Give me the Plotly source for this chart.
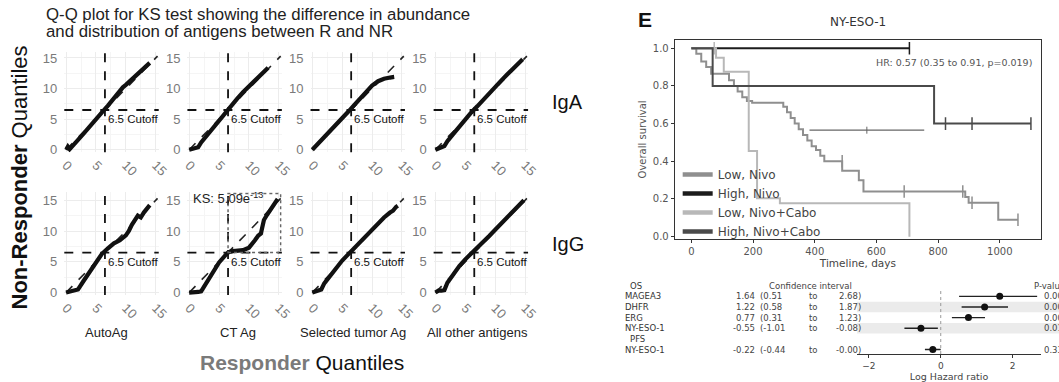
import plotly.graph_objects as go

W, H = 1059, 382

# ---------------- Q-Q panels (left figure) ----------------
qq_columns = ["AutoAg", "CT Ag", "Selected tumor Ag", "All other antigens"]
qq_col_label_x = [6.8, 8.2, 6.8, 7.1]
qq_rows = ["IgA", "IgG"]
qq_ticks = [0, 5, 10, 15]
cutoff = 6.5
ref_line = [0, 15.3]

iga_auto_x = [0, 0.3, 0.6, 1, 2, 3, 4, 5, 6, 7, 8, 9, 9.5, 10, 11, 12, 13, 14]
iga_auto_y = [0, 0.5, 0.1, 0.6, 1.6, 2.7, 3.9, 5.0, 6.1, 7.2, 8.4, 9.7, 10.2, 10.6, 11.5, 12.4, 13.3, 14.2]
iga_ct_x = [0, 0.5, 1, 1.5, 2, 3, 4, 5, 6, 7, 8, 9, 10, 11, 12, 13.2]
iga_ct_y = [0, 0.1, 0.2, 0.4, 1.2, 2.4, 3.6, 4.9, 6.1, 7.3, 8.3, 9.4, 10.4, 11.3, 12.3, 13.4]
iga_sel_x = [0, 1, 2, 3, 4, 5, 6, 7, 8, 9, 10, 11, 12, 13, 13.7]
iga_sel_y = [0, 1.0, 2.0, 3.1, 4.1, 5.1, 6.2, 7.3, 8.3, 9.3, 10.5, 11.2, 11.6, 11.8, 11.9]
iga_oth_x = [0, 0.5, 1, 1.5, 2, 3, 4, 5, 6, 7, 8, 9, 10, 11, 12, 13, 14, 14.6]
iga_oth_y = [0, 0.3, 0.4, 0.6, 1.4, 2.6, 3.8, 5.0, 6.1, 7.1, 8.2, 9.2, 10.3, 11.3, 12.3, 13.3, 14.2, 14.8]

igg_auto_x = [0, 1, 2, 3, 4, 5, 6, 7, 8, 9, 10, 10.5, 11, 12, 12.5, 13, 14]
igg_auto_y = [0, 0.3, 0.5, 2.0, 3.5, 5.0, 6.3, 7.2, 8.0, 8.5, 9.3, 10.0, 11.0, 12.5, 12.2, 13.0, 14.2]
igg_ct_x = [0, 0.5, 1, 1.5, 2, 2.5, 3, 4, 5, 6, 6.5, 7, 8, 9, 10, 10.5, 11, 11.5, 12, 12.2, 12.3, 12.5, 13, 13.5, 14, 14.8]
igg_ct_y = [0, 0, 0.1, 0.1, 0.2, 1.0, 2.0, 3.6, 4.9, 6.0, 6.5, 6.7, 6.8, 6.9, 7.3, 7.8, 8.5, 9.2, 9.6, 10.5, 11.3, 11.8, 12.6, 13.4, 14.2, 15.2]
igg_sel_x = [0, 0.5, 1, 1.5, 2, 3, 4, 5, 6, 7, 8, 9, 10, 11, 12, 13, 13.5, 14, 14.3]
igg_sel_y = [0, 0.2, 0.3, 0.5, 1.5, 2.8, 4.0, 5.2, 6.2, 7.2, 8.3, 9.3, 10.3, 11.3, 12.2, 13.0, 13.3, 13.9, 14.1]
igg_oth_x = [0, 0.5, 1, 1.5, 2, 3, 4, 5, 6, 7, 8, 9, 10, 11, 12, 13, 14, 14.8]
igg_oth_y = [0, 0.3, 0.3, 0.4, 1.6, 3.0, 4.3, 5.4, 6.3, 7.2, 8.2, 9.2, 10.2, 11.2, 12.3, 13.3, 14.2, 15.0]

qq_series = [
    [(iga_auto_x, iga_auto_y), (iga_ct_x, iga_ct_y), (iga_sel_x, iga_sel_y), (iga_oth_x, iga_oth_y)],
    [(igg_auto_x, igg_auto_y), (igg_ct_x, igg_ct_y), (igg_sel_x, igg_sel_y), (igg_oth_x, igg_oth_y)],
]
ks_label = "KS: 5.09e<sup>-13</sup>"
ks_label_y = 15.4
ks_box_x = [6.5, 15.3]
ks_box_y = [6.5, 16.1]

# ---------------- Kaplan-Meier data ----------------
km_names = ["Low, Nivo", "High, Nivo", "Low, Nivo+Cabo", "High, Nivo+Cabo"]
km_colors = ["#8f8f8f", "#1c1c1c", "#b8b8b8", "#4a4a4a"]

low_nivo_t = [0, 16, 32, 48, 64, 122, 138, 150, 165, 180, 197, 298, 310, 322, 335, 348, 362, 376, 390, 404, 418, 431, 489, 543, 558, 888, 899, 905, 995, 1059]
low_nivo_s = [1.0, 0.97, 0.93, 0.90, 0.865, 0.83, 0.80, 0.77, 0.74, 0.72, 0.71, 0.69, 0.66, 0.63, 0.60, 0.57, 0.54, 0.51, 0.48, 0.46, 0.43, 0.40, 0.35, 0.30, 0.24, 0.21, 0.18, 0.18, 0.09, 0.09]
low_nivo_ct = [489, 690, 880, 910, 1059]
low_nivo_cs = [0.40, 0.24, 0.24, 0.18, 0.09]

high_nivo_t = [0, 707]
high_nivo_s = [1.0, 1.0]
high_nivo_ct = [707]
high_nivo_cs = [1.0]

low_cabo_t = [0, 80, 105, 186, 213, 287, 707]
low_cabo_s = [1.0, 0.95, 0.875, 0.455, 0.204, 0.178, 0.0]
low_cabo_ct = [74]
low_cabo_cs = [1.0]

high_cabo_t = [0, 69, 787, 1101]
high_cabo_s = [1.0, 0.8, 0.6, 0.6]
high_cabo_ct = [824, 910, 1101]
high_cabo_cs = [0.6, 0.6, 0.6]

km_curves = [
    (low_nivo_t, low_nivo_s, low_nivo_ct, low_nivo_cs),
    (high_nivo_t, high_nivo_s, high_nivo_ct, high_nivo_cs),
    (low_cabo_t, low_cabo_s, low_cabo_ct, low_cabo_cs),
    (high_cabo_t, high_cabo_s, high_cabo_ct, high_cabo_cs),
]
median_t = [383, 755]
median_s = [0.565, 0.565]
median_mark_t = [569]
km_xticks = [0, 200, 400, 600, 800, 1000]
km_yticks = [0.0, 0.2, 0.4, 0.6, 0.8, 1.0]
hr_text = "HR: 0.57 (0.35 to 0.91, p=0.019)"
hr_y = 0.923

# ---------------- Forest plot data ----------------
forest_rows = ["OS", "MAGEA3", "DHFR", "ERG", "NY-ESO-1", "PFS", "NY-ESO-1"]
forest_is_header = [True, False, False, False, False, True, False]
forest_est = [None, 1.64, 1.22, 0.77, -0.55, None, -0.22]
forest_lo = [None, 0.51, 0.58, 0.31, -1.01, None, -0.44]
forest_hi = [None, 2.68, 1.87, 1.23, -0.08, None, -0.00]
forest_est_txt = ["", "1.64", "1.22", "0.77", "-0.55", "", "-0.22"]
forest_lo_txt = ["", "(0.51", "(0.58", "(0.31", "(-1.01", "", "(-0.44"]
forest_hi_txt = ["", "2.68)", "1.87)", "1.23)", "-0.08)", "", "-0.00)"]
forest_p_txt = ["P-value", "0.002", "0.000", "0.001", "0.019", "", "0.33"]
forest_shaded_rows = [2, 4]
forest_xticks = [-2, 0, 2]
forest_yrange = [6.46, -0.5]

# ---------------- layout helpers ----------------
def fx(p):
    return p / W

def fy(p):
    return 1 - p / H

def ax_suffix(n):
    return "" if n == 1 else str(n)

SANS = "Liberation Sans, Arial, sans-serif"
DJV = "DejaVu Sans, sans-serif"

fig = go.Figure()
layout = dict(
    width=W, height=H, margin=dict(l=0, r=0, t=0, b=0),
    paper_bgcolor="white", plot_bgcolor="white",
    showlegend=True,
    legend=dict(x=fx(683), y=fy(161), xanchor="left", yanchor="top",
                bgcolor="rgba(0,0,0,0)", font=dict(family=DJV, size=12, color="#444"),
                itemwidth=30, tracegroupgap=0),
)
shapes = []
annotations = []

# Q-Q panel geometry (pixels)
col_left0, col_step, col_w = 60.2, 125, 95.9
row_tb = [(51.4, 153.0), (193.8, 298.5)]
row_range = [[-0.4, 15.9], [-0.4, 16.3]]
x_range = [-0.3, 15.5]

for r in range(2):
    for c in range(4):
        n = r * 4 + c + 1
        sfx = ax_suffix(n)
        xa, ya = f"xaxis{sfx}", f"yaxis{sfx}"
        xr, yr = f"x{sfx}", f"y{sfx}"
        left = col_left0 + c * col_step
        top, bot = row_tb[r]
        grid = dict(showgrid=True, gridcolor="#ececec", gridwidth=1, zeroline=False,
                    showline=False, ticks="", tickvals=qq_ticks,
                    minor=dict(dtick=2.5, showgrid=True, gridcolor="#f5f5f5", gridwidth=1),
                    tickfont=dict(family=SANS, size=13, color="#7a7a7a"))
        layout[xa] = dict(grid, domain=[fx(left), fx(left + col_w)], range=x_range,
                          anchor=yr, tickangle=45, ticklabelstandoff=2)
        layout[ya] = dict(grid, domain=[fy(bot), fy(top)], range=row_range[r], anchor=xr,
                          ticklabelstandoff=6)
        sx, sy = qq_series[r][c]
        fig.add_trace(go.Scatter(x=ref_line, y=ref_line, mode="lines", xaxis=xr, yaxis=yr,
                                 line=dict(color="#222", width=1.6, dash="dash"),
                                 showlegend=False, hoverinfo="skip"))
        fig.add_trace(go.Scatter(x=sx, y=sy, mode="lines", xaxis=xr, yaxis=yr,
                                 line=dict(color="#111", width=4.2),
                                 showlegend=False))
        shapes.append(dict(type="line", xref=f"{xr} domain", yref=yr, x0=0, x1=1,
                           y0=cutoff, y1=cutoff, line=dict(color="#111", width=1.8, dash="dash")))
        shapes.append(dict(type="line", xref=xr, yref=f"{yr} domain", x0=cutoff, x1=cutoff,
                           y0=0, y1=1, line=dict(color="#111", width=1.8, dash="dash")))
        annotations.append(dict(x=cutoff, y=cutoff, xref=xr, yref=yr, text="6.5 Cutoff",
                                showarrow=False, xanchor="left", yanchor="top", xshift=1, yshift=-1,
                                font=dict(family=SANS, size=11.5, color="#111")))
        if r == 1 and c == 1:
            shapes.append(dict(type="rect", xref=xr, yref=yr, x0=ks_box_x[0], x1=ks_box_x[1],
                               y0=ks_box_y[0], y1=ks_box_y[1],
                               line=dict(color="#666", width=1.5, dash="dot")))
            annotations.append(dict(x=cutoff, y=ks_label_y, xref=xr, yref=yr, text=ks_label,
                                    showarrow=False, xanchor="center", yanchor="middle",
                                    font=dict(family=SANS, size=13, color="#222")))
        if r == 1:
            annotations.append(dict(x=qq_col_label_x[c], y=fy(337), xref=xr, yref="paper",
                                    xanchor="center", yanchor="middle",
                                    text=qq_columns[c], showarrow=False,
                                    font=dict(family=SANS, size=13, color="#222")))

for r, lab in enumerate(qq_rows):
    annotations.append(dict(x=fx(553), y=fy((row_tb[r][0] + row_tb[r][1]) / 2), xref="paper", yref="paper",
                            text=lab, showarrow=False, xanchor="left", yanchor="middle",
                            font=dict(family=SANS, size=20, color="#111")))

annotations += [
    dict(x=fx(40), y=fy(13), xref="paper", yref="paper", xanchor="left", yanchor="middle",
         text="Q-Q plot for KS test showing the difference in abundance", showarrow=False,
         font=dict(family=SANS, size=16.8, color="#222")),
    dict(x=fx(40), y=fy(30), xref="paper", yref="paper", xanchor="left", yanchor="middle",
         text="and distribution of antigens between R and NR", showarrow=False,
         font=dict(family=SANS, size=16.8, color="#222")),
    dict(x=fx(302), y=fy(367), xref="paper", yref="paper", xanchor="center", yanchor="middle",
         text="<b><span style='color:#7a7a7a'>Responder</span></b> Quantiles", showarrow=False,
         font=dict(family=SANS, size=21, color="#111")),
    dict(x=fx(15), y=fy(179), xref="paper", yref="paper", xanchor="center", yanchor="middle",
         text="<b>Non-Responder</b> Quantiles", showarrow=False, textangle=-90,
         font=dict(family=SANS, size=22, color="#111")),
    dict(x=fx(650), y=fy(18), xref="paper", yref="paper", xanchor="center", yanchor="middle",
         text="<b>E</b>", showarrow=False, font=dict(family=SANS, size=21, color="#111")),
]

# ---------------- Kaplan-Meier ----------------
km_x, km_y = "x9", "y9"
layout["xaxis9"] = dict(domain=[fx(680), fx(1052)], range=[-54, 1134], anchor=km_y,
                        showline=True, mirror=True, linecolor="#333", linewidth=1,
                        showgrid=False, zeroline=False, ticks="outside", ticklen=3,
                        tickcolor="#333", tickvals=km_xticks,
                        tickfont=dict(family=DJV, size=10, color="#555"),
                        title=dict(text="Timeline, days", standoff=2,
                                   font=dict(family=DJV, size=10.5, color="#444")))
layout["yaxis9"] = dict(domain=[fy(241), fy(39)], range=[-0.01, 1.042], anchor=km_x,
                        showline=True, mirror=True, linecolor="#333", linewidth=1,
                        showgrid=False, zeroline=False, ticks="outside", ticklen=3,
                        tickcolor="#333", tickvals=km_yticks, tickformat=".1f",
                        tickfont=dict(family=DJV, size=10, color="#555"),
                        title=dict(text="Overall survival", standoff=4,
                                   font=dict(family=DJV, size=10, color="#555")))

for name, col, (t, s, ct, cs) in zip(km_names, km_colors, km_curves):
    fig.add_trace(go.Scatter(x=t, y=s, mode="lines", line=dict(color=col, width=2, shape="hv"),
                             xaxis=km_x, yaxis=km_y, showlegend=False, name=name))
    fig.add_trace(go.Scatter(x=ct, y=cs, mode="markers", xaxis=km_x, yaxis=km_y, showlegend=False,
                             marker=dict(symbol="line-ns", size=9, line=dict(color=col, width=1.5))))
for name, col in zip(km_names, km_colors):
    fig.add_trace(go.Scatter(x=[None], y=[None], mode="lines", xaxis=km_x, yaxis=km_y,
                             line=dict(color=col, width=4.5), name=name, showlegend=True))

fig.add_trace(go.Scatter(x=median_t, y=median_s, mode="lines", xaxis=km_x, yaxis=km_y,
                         line=dict(color="#666", width=1.2), showlegend=False))
fig.add_trace(go.Scatter(x=median_mark_t, y=median_s[:1], mode="markers", xaxis=km_x, yaxis=km_y,
                         marker=dict(symbol="line-ns", size=5, line=dict(color="#666", width=1)),
                         showlegend=False))

annotations += [
    dict(x=fx(866), y=fy(20), xref="paper", yref="paper", text="NY-ESO-1", showarrow=False,
         xanchor="center", yanchor="middle", font=dict(family=DJV, size=12, color="#333")),
    dict(x=fx(882), y=hr_y, xref="paper", yref=km_y, text=hr_text, showarrow=False,
         xanchor="left", yanchor="middle", font=dict(family=DJV, size=9.5, color="#555")),
]

# ---------------- Forest plot ----------------
fo_x, fo_y = "x10", "y10"
layout["xaxis10"] = dict(domain=[fx(865), fx(1052)], range=[-2.33, 2.79], anchor=fo_y,
                         showline=True, linecolor="#333", linewidth=1, showgrid=False,
                         zeroline=False, ticks="outside", ticklen=3, tickcolor="#333",
                         tickvals=forest_xticks, tickfont=dict(family=DJV, size=9, color="#444"),
                         title=dict(text="Log Hazard ratio", standoff=0,
                                    font=dict(family=DJV, size=9.5, color="#444")))
layout["yaxis10"] = dict(domain=[fy(359), fy(283.6)], range=forest_yrange, anchor=fo_x,
                         visible=False)

rows_idx = list(range(len(forest_rows)))
for i in forest_shaded_rows:
    shapes.append(dict(type="rect", xref=f"{fo_x} domain", yref=fo_y, x0=0, x1=1.1,
                       y0=i - 0.5, y1=i + 0.5, fillcolor="#ebebeb", line=dict(width=0),
                       layer="below"))
shapes.append(dict(type="line", xref=fo_x, yref=fo_y, x0=0, x1=0, y0=0.5, y1=forest_yrange[0],
                   line=dict(color="#999", width=1, dash="dot")))

pts_y = [i for i in rows_idx if forest_est[i] is not None]
pts_e = [forest_est[i] for i in pts_y]
fig.add_trace(go.Scatter(
    x=pts_e, y=pts_y, mode="markers", xaxis=fo_x, yaxis=fo_y, showlegend=False,
    marker=dict(color="#111", size=7),
    error_x=dict(type="data", symmetric=False,
                 array=[forest_hi[i] - forest_est[i] for i in pts_y],
                 arrayminus=[forest_est[i] - forest_lo[i] for i in pts_y],
                 color="#222", thickness=1.4, width=0)))

for i in rows_idx:
    lab = forest_rows[i]
    hdr = forest_is_header[i]
    annotations.append(dict(x=fx(633 if hdr else 627), y=i, xref="paper", yref=fo_y, text=lab,
                            showarrow=False, xanchor="left", yanchor="middle",
                            font=dict(family=DJV, size=8.5, color="#333")))
    if forest_est_txt[i]:
        for txt, xp, anc in [(forest_est_txt[i], 764, "right"), (forest_lo_txt[i], 765, "left"),
                             ("to", 821, "center"), (forest_hi_txt[i], 871, "right")]:
            annotations.append(dict(x=fx(xp), y=i, xref="paper", yref=fo_y, text=txt,
                                    showarrow=False, xanchor=anc, yanchor="middle",
                                    font=dict(family=DJV, size=8.5, color="#444")))
    if forest_p_txt[i]:
        annotations.append(dict(x=fx(1043 if i == 0 else 1053), y=i, xref="paper", yref=fo_y,
                                text=forest_p_txt[i], showarrow=False, xanchor="left",
                                yanchor="middle", font=dict(family=DJV, size=8.5, color="#444")))
annotations.append(dict(x=fx(818), y=0, xref="paper", yref=fo_y, text="Confidence interval",
                        showarrow=False, xanchor="center", yanchor="middle",
                        font=dict(family=DJV, size=8.5, color="#444")))

layout["shapes"] = shapes
layout["annotations"] = annotations
fig.update_layout(**layout)
fig.write_html("out.html", config={"displayModeBar": False},
               post_script="document.body.style.margin='0';")
